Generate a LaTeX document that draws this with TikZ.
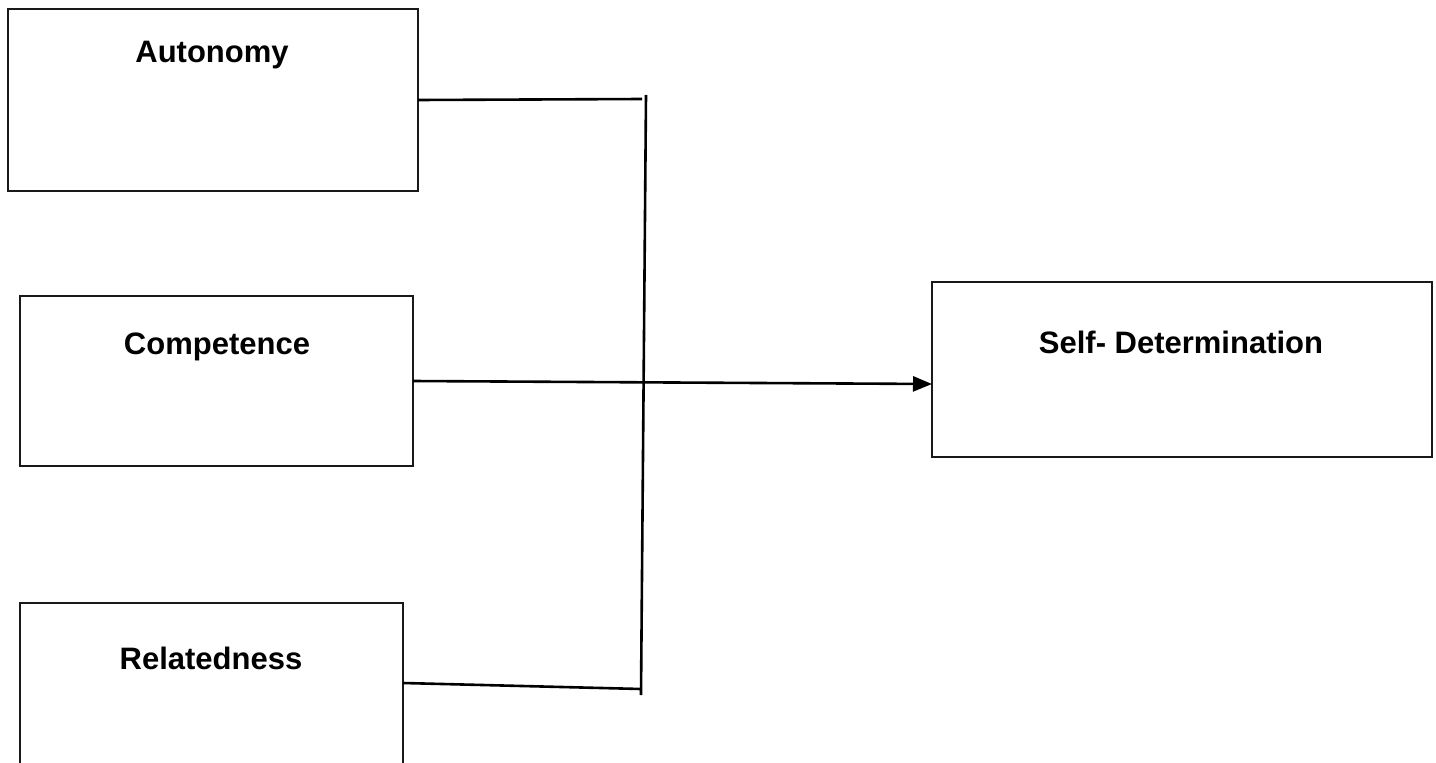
\documentclass[tikz,border=0pt]{standalone}
\usepackage{fontspec}
\setmainfont{Liberation Sans}
\usetikzlibrary{arrows.meta}
\begin{document}
\begin{tikzpicture}[x=1pt,y=-1pt,
  box/.style={draw=black!90,line width=2.6pt},
  lbl/.style={anchor=base,inner sep=0pt,font=\fontsize{31}{36}\selectfont\bfseries},
  conn/.style={draw=black,line width=2.6pt}]
\useasboundingbox (0,0) rectangle (1436,763);
\clip (0,0) rectangle (1436,763);
\fill[white] (0,0) rectangle (1436,763);
% boxes
\draw[box] (8,9) rectangle (418,191);
\draw[box] (20,296) rectangle (413,466);
\draw[box] (20,603) rectangle (403,800);
\draw[box] (932,282) rectangle (1432,457);
% anchor coordinates on boxes
\coordinate (autE) at (418,100);
\coordinate (comE) at (413,381);
\coordinate (relE) at (403,683);
\coordinate (sdW) at (932,384);
% labels
\node[lbl] (autT) at (212,62) {Autonomy};
\node[lbl] (comT) at (217,354) {Competence};
\node[lbl] (relT) at (211,669) {Relatedness};
\node[lbl] (sdT) at (1181,353) {Self- Determination};
% bar
\coordinate (barTop) at (646,95);
\coordinate (barBot) at (641,695);
\coordinate (autJ) at (642,99);
\coordinate (relJ) at (641,689);
\draw[conn] (barTop) -- (barBot);
\draw[conn] (autE) -- (autJ);
\draw[conn] (relE) -- (relJ);
\draw[conn,-{Triangle[length=19pt,width=15pt]}] (comE) -- (sdW);
\end{tikzpicture}
\end{document}
